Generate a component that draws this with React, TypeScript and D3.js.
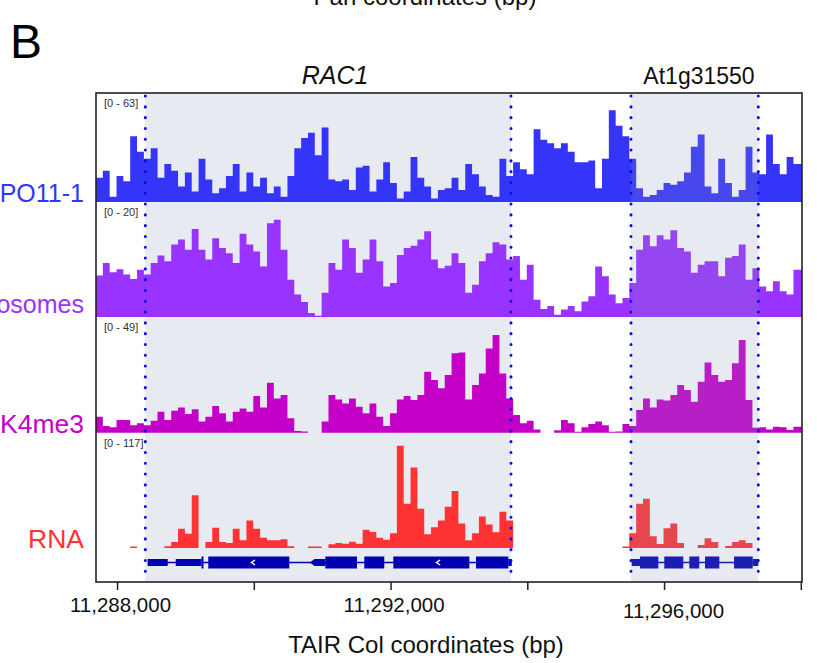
import React, { useEffect, useRef } from 'react';
import * as d3 from 'd3';

// genomic window and bins (100 bp)
const VIEW_START = 11287685;
const VIEW_END = 11298010;
const BIN_SIZE = 100;

const trackNames = ['SPO11-1', 'Nucleosomes', 'H3K4me3', 'RNA'];
const trackColors = ['#3535fa', '#9933ff', '#c400c8', '#ff3333'];
const trackMax = [63, 20, 49, 117];

const spo11 = [
  14, 18, 3, 15, 12, 38, 29, 25, 31, 14,
  22, 18, 9, 17, 6, 25, 13, 5, 8, 15,
  22, 6, 17, 9, 14, 5, 9, 3, 15, 31,
  37, 40, 27, 43, 13, 12, 13, 7, 20, 21,
  6, 13, 23, 11, 2, 6, 26, 14, 9, 2,
  7, 8, 14, 7, 22, 16, 9, 4, 3, 25,
  15, 23, 19, 16, 42, 36, 34, 31, 34, 29,
  23, 23, 24, 8, 25, 53, 44, 38, 25, 8,
  3, 4, 7, 11, 10, 12, 17, 32, 39, 9,
  5, 25, 11, 3, 7, 32, 17, 16, 39, 22,
  16, 26, 22,
];

const nucleosomes = [
  7.2, 9.4, 7.8, 8.3, 7.4, 6.6, 8.2, 7.4, 9.4, 10.7,
  9.7, 12.6, 13.5, 11.7, 15.3, 11.7, 10, 13.7, 12, 11.1,
  9.4, 14.5, 12.6, 11.4, 8.8, 16.3, 16.9, 11.7, 6.5, 3.9,
  2.6, 0.7, 0.2, 4.2, 9.4, 8.2, 13.5, 12, 7.7, 10,
  13.5, 9.7, 5.3, 5.9, 10.8, 12, 12.4, 13.5, 14.9, 10,
  8.5, 8.9, 11.1, 9.4, 4.2, 5.6, 9.7, 11.1, 13, 12.6,
  10, 10.6, 6.5, 9.1, 3, 1.4, 1.9, 0.4, 1.3, 1.9,
  1, 2.7, 3.6, 8.8, 7.1, 3.9, 2.4, 3.3, 5.9, 11.7,
  14.2, 12.3, 14.2, 13.5, 15.1, 12, 11.4, 7.7, 9.1, 9.7,
  9.7, 7.1, 10.3, 10.6, 12.6, 6.5, 8.5, 5.3, 4.5, 6.2,
  4.5, 3.9, 8.2,
];

const h3k4me3 = [
  6.8, 2.8, 2.3, 5.4, 5.4, 3.2, 4, 3.2, 5.1, 8.9,
  5.4, 9.3, 10.7, 7.9, 9.9, 4.7, 6.8, 11.3, 8.2, 4.7,
  8.9, 10.3, 8.9, 15.5, 10.7, 21.2, 14.5, 16, 6.1, 0.7,
  0.5, 0, 0, 4.7, 16, 14.1, 12.4, 14.5, 11, 8.2,
  12.4, 6.8, 2.8, 8.2, 14.1, 15.5, 13.8, 16, 25.8, 22.3,
  18.8, 24.4, 33.6, 34, 14.1, 20.2, 25.1, 35.7, 41.4, 25.1,
  14.5, 7.5, 4, 5.1, 1.4, 0, 0, 1, 5.4, 4,
  0.4, 2.3, 3.7, 4.7, 3.2, 0.4, 0.5, 3.7, 2.8, 9.6,
  14.5, 10.7, 14.1, 13.6, 16, 20.2, 18.1, 13.1, 21.6, 29.7,
  24.4, 21.6, 22.3, 29.4, 39.3, 13.8, 2.1, 2.3, 1.4, 2.5,
  2.3, 1.1, 2.5,
];

const rna = [
  0, 0, 0, 0, 0, 1.5, 0, 0, 0, 0,
  1.7, 6.1, 19.7, 14.6, 53.6, 0, 6, 20.7, 6.1, 5,
  19.7, 7.8, 28, 19.7, 10.5, 7.8, 7.8, 8.8, 1.7, 0,
  0, 1.5, 1.5, 0, 3.7, 5, 4.4, 6.4, 4.4, 18.6,
  16.3, 10.5, 8.5, 15, 104, 45, 82, 40, 14, 21,
  28, 42, 58, 25, 8, 15, 32, 24, 16, 37,
  28, 0, 0, 0, 0, 0, 0, 0, 0, 0,
  0, 0, 0, 0, 0, 0, 0, 1.5, 15, 45,
  50, 12, 4, 20, 25, 5, 0, 0, 3, 10,
  6, 0, 2, 6, 8, 5, 0, 0, 0, 0,
  0, 0, 0,
];

const trackData = [spo11, nucleosomes, h3k4me3, rna];

// regions of interest
const roiStarts = [11288406, 11295509];
const roiEnds = [11293754, 11297371];
const geneNames = ['RAC1', 'At1g31550'];

// gene models: [start, end, isCoding]
const rac1Blocks: [number, number, boolean][] = [
  [11288441, 11288734, false],
  [11288851, 11289228, false],
  [11289228, 11289257, true],
  [11289327, 11290512, true],
  [11290873, 11291039, false],
  [11291039, 11291502, true],
  [11291609, 11291901, true],
  [11292033, 11293145, true],
  [11293243, 11293715, true],
  [11293715, 11293765, false],
];
const rac1Chevrons = [11289981, 11292687];
const rac1IntronArrows = [11290854];

const at1gBlocks: [number, number, boolean][] = [
  [11295520, 11295641, false],
  [11295641, 11295909, true],
  [11295996, 11296274, true],
  [11296362, 11296508, true],
  [11296592, 11296801, true],
  [11297016, 11297289, true],
  [11297289, 11297371, false],
];

const tickValues = [11288000, 11290000, 11292000, 11294000, 11296000, 11298000];
const labelValues = [11288000, 11292000, 11296000];
const labelText = ['11,288,000', '11,292,000', '11,296,000'];

const FONT = '"Liberation Sans", Arial, Helvetica, sans-serif';

export default function App() {
  const svgRef = useRef<SVGSVGElement>(null);

  useEffect(() => {
    if (!svgRef.current) return;
    const width = 817;
    const height = 663;
    const left = 96, right = 802, top = 93, bottom = 582;
    const trackTops = [93, 202, 317, 433];
    const trackBottoms = [202, 317, 432.7, 548];
    const labelSizes = [25, 25, 26.5, 26.5];
    const geneY = 562.5;

    const svg = d3.select(svgRef.current)
      .attr('width', width)
      .attr('height', height)
      .html('');

    svg.append('rect').attr('width', width).attr('height', height).attr('fill', '#fff');

    const x = d3.scaleLinear().domain([VIEW_START, VIEW_END]).range([left, right]);

    // first region shading sits behind the data
    svg.append('rect')
      .attr('x', x(roiStarts[0]))
      .attr('y', top)
      .attr('width', x(roiEnds[0]) - x(roiStarts[0]))
      .attr('height', bottom - top)
      .attr('fill', '#e8eaf1');

    // coverage tracks
    trackData.forEach((vals, t) => {
      const y = d3.scaleLinear().domain([0, trackMax[t]]).range([trackBottoms[t], trackTops[t]]);
      const pts: [number, number][] = vals.map((v, i) => [VIEW_START + i * BIN_SIZE, v]);
      pts.push([VIEW_END, vals[vals.length - 1]]);
      const area = d3.area<[number, number]>()
        .x(d => x(d[0]))
        .y0(y(0))
        .y1(d => y(d[1]))
        .curve(d3.curveStepAfter);
      svg.append('path')
        .attr('d', area(pts) as string)
        .attr('fill', trackColors[t]);

      svg.append('text')
        .attr('x', 104)
        .attr('y', trackTops[t] + 13.5)
        .attr('font-family', FONT)
        .attr('font-size', 11)
        .attr('fill', '#333')
        .text(`[0 - ${trackMax[t]}]`);

      svg.append('text')
        .attr('x', 84)
        .attr('y', trackBottoms[t] - (t === 1 ? 4 : 0))
        .attr('text-anchor', 'end')
        .attr('font-family', FONT)
        .attr('font-size', labelSizes[t])
        .attr('fill', trackColors[t])
        .text(trackNames[t]);
    });

    // gene models
    const geneColor = '#0000b2';
    const drawGene = (blocks: [number, number, boolean][]) => {
      const g = svg.append('g');
      g.append('line')
        .attr('x1', x(blocks[0][0])).attr('x2', x(blocks[blocks.length - 1][1]))
        .attr('y1', geneY).attr('y2', geneY)
        .attr('stroke', geneColor).attr('stroke-width', 1.5);
      blocks.forEach(([s, e, coding]) => {
        const h = coding ? 12 : 7;
        g.append('rect')
          .attr('x', x(s)).attr('width', Math.max(1, x(e) - x(s)))
          .attr('y', geneY - h / 2).attr('height', h)
          .attr('fill', geneColor);
      });
      return g;
    };
    const g1 = drawGene(rac1Blocks);
    rac1Chevrons.forEach(c => {
      const cx = x(c);
      g1.append('path')
        .attr('d', `M${cx + 2},${geneY - 2.5} L${cx - 1.5},${geneY} L${cx + 2},${geneY + 2.5}`)
        .attr('fill', 'none').attr('stroke', '#fff').attr('stroke-width', 1.5);
    });
    rac1IntronArrows.forEach(c => {
      const cx = x(c);
      g1.append('path')
        .attr('d', `M${cx - 3},${geneY} L${cx + 2},${geneY - 3.5} L${cx + 2},${geneY + 3.5} Z`)
        .attr('fill', geneColor);
    });
    drawGene(at1gBlocks);

    // second region shading is drawn over the data
    svg.append('rect')
      .attr('x', x(roiStarts[1]))
      .attr('y', top)
      .attr('width', x(roiEnds[1]) - x(roiStarts[1]))
      .attr('height', bottom - top)
      .attr('fill', 'rgb(140,150,185)')
      .attr('opacity', 0.2);

    // dotted region borders
    roiStarts.concat(roiEnds).forEach(p => {
      svg.append('line')
        .attr('x1', x(p)).attr('x2', x(p))
        .attr('y1', top + 3).attr('y2', bottom)
        .attr('stroke', '#0a0af0')
        .attr('stroke-width', 3)
        .attr('stroke-linecap', 'round')
        .attr('stroke-dasharray', '0.1 10.7');
    });

    // frame
    svg.append('rect')
      .attr('x', left).attr('y', top)
      .attr('width', right - left).attr('height', bottom - top)
      .attr('fill', 'none').attr('stroke', '#222').attr('stroke-width', 1.6);

    // axis
    svg.selectAll('.tick')
      .data(tickValues)
      .enter()
      .append('line')
      .attr('x1', d => x(d)).attr('x2', d => x(d))
      .attr('y1', bottom).attr('y2', bottom + 8)
      .attr('stroke', '#222').attr('stroke-width', 1.5);

    const labelDx = [3, 3, 9];
    const labelY = [612, 612, 618];
    labelValues.forEach((v, i) => {
      svg.append('text')
        .attr('x', x(v) + labelDx[i])
        .attr('y', labelY[i])
        .attr('text-anchor', 'middle')
        .attr('font-family', FONT)
        .attr('font-size', 20.5)
        .attr('fill', '#111')
        .text(labelText[i]);
    });

    svg.append('text')
      .attr('x', 426).attr('y', 653)
      .attr('text-anchor', 'middle')
      .attr('font-family', FONT)
      .attr('font-size', 24)
      .attr('fill', '#111')
      .text('TAIR Col coordinates (bp)');

    // gene labels above the frame
    svg.append('text')
      .attr('x', 335).attr('y', 84)
      .attr('text-anchor', 'middle')
      .attr('font-family', FONT)
      .attr('font-size', 25)
      .attr('font-style', 'italic')
      .attr('fill', '#111')
      .text(geneNames[0]);
    svg.append('text')
      .attr('x', 699).attr('y', 84)
      .attr('text-anchor', 'middle')
      .attr('font-family', FONT)
      .attr('font-size', 23)
      .attr('fill', '#111')
      .text(geneNames[1]);

    // panel letter and clipped title from the panel above
    svg.append('text')
      .attr('x', 10).attr('y', 58)
      .attr('font-family', FONT)
      .attr('font-size', 48)
      .attr('fill', '#000')
      .text('B');
    svg.append('text')
      .attr('x', 425).attr('y', 5)
      .attr('text-anchor', 'middle')
      .attr('font-family', FONT)
      .attr('font-size', 24)
      .attr('fill', '#111')
      .text('Pan coordinates (bp)');
  }, []);

  return (
    <svg ref={svgRef} style={{ position: 'absolute', left: 0, top: 0, display: 'block' }} />
  );
}
